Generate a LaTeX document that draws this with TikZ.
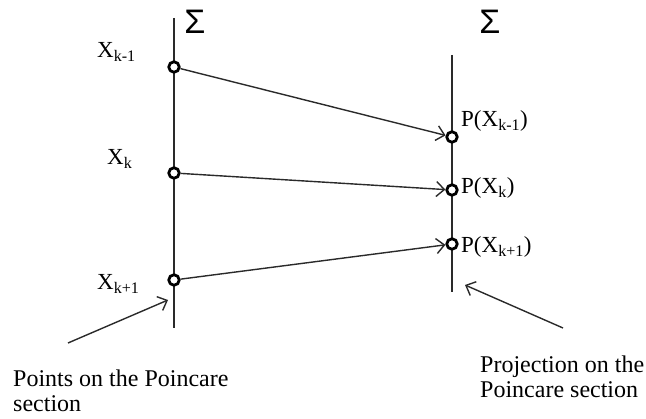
\documentclass[tikz,border=0pt]{standalone}
\usepackage{fontspec}
\setmainfont{Liberation Serif}
\newfontfamily\sigmafont{Liberation Sans}
\usetikzlibrary{arrows.meta}
\definecolor{linegray}{HTML}{2A2A2A}

\begin{document}
\begin{tikzpicture}[
  x=1pt,
  y=-1pt,
  line join=round,
  section/.style={draw=linegray,line width=1.4pt},
  pt/.style={circle,draw=black,fill=white,line width=2.8pt,inner sep=0pt,minimum size=10.5pt},
  maparrow/.style={draw=linegray,line width=1.4pt,-{Straight Barb[length=8pt,width=15pt]}},
  lbl/.style={font=\fontsize{23}{25}\selectfont,inner sep=0pt,anchor=base west},
  caption/.style={font=\fontsize{24}{25}\selectfont,align=left,inner sep=0pt,anchor=north west},
  sig/.style={font=\sigmafont\fontsize{34}{34}\selectfont,inner sep=0pt}
]
  % Match the artwork frame.
  \useasboundingbox (0,0) rectangle (646,419);

  % Two Poincare sections.
  \coordinate (ltop) at (174,18);
  \coordinate (lbot) at (174,328);
  \coordinate (rtop) at (452,55);
  \coordinate (rbot) at (452,292);
  \draw[section] (ltop) -- (lbot);
  \draw[section] (rtop) -- (rbot);
  \node[sig] (sigl) at (195,22) {Σ};
  \node[sig] (sigr) at (490,22) {Σ};

  % Points on the left section and their projections.
  \node[pt] (xm) at (174,67) {};
  \node[pt] (xk) at (174,173) {};
  \node[pt] (xp) at (174,280) {};
  \node[pt] (pm) at (452,137) {};
  \node[pt] (pk) at (452,190) {};
  \node[pt] (pp) at (452,244) {};

  \node[lbl] (xmlbl) at (97,58) {X\textsubscript{k-1}};
  \node[lbl] (xklbl) at (107,165) {X\textsubscript{k}};
  \node[lbl] (xplbl) at (97,290) {X\textsubscript{k+1}};
  \node[lbl] (pmlbl) at (461,127) {P(X\textsubscript{k-1})};
  \node[lbl] (pklbl) at (461,194) {P(X\textsubscript{k})};
  \node[lbl] (pplbl) at (461,253) {P(X\textsubscript{k+1})};

  % Map arrows between the sections.
  \draw[maparrow] (xm) -- (pm);
  \draw[maparrow] (xk) -- (pk);
  \draw[maparrow] (xp) -- (pp);

  % Captions with pointers.
  \coordinate (ltip) at (168,300);
  \coordinate (ltail) at (68,343);
  \coordinate (rtip) at (465,285);
  \coordinate (rtail) at (563,328);
  \draw[maparrow] (ltail) -- (ltip);
  \draw[maparrow] (rtail) -- (rtip);
  \node[caption] (lcap) at (13,370) {Points on the Poincare\\section};
  \node[caption] (rcap) at (480,356) {Projection on the\\Poincare section};
\end{tikzpicture}
\end{document}
